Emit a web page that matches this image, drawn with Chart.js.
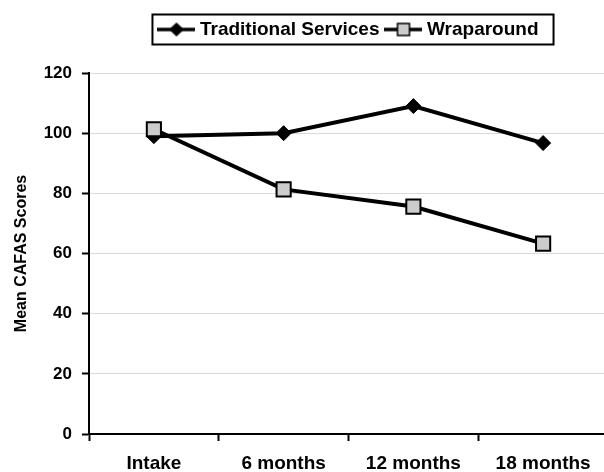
<!DOCTYPE html>
<html>
<head>
<meta charset="utf-8">
<script src="https://cdn.jsdelivr.net/npm/chart.js@4"></script>
<style>
  html, body { margin: 0; padding: 0; background: #fff; overflow: hidden; }
  #wrap { width: 620px; height: 472px; }
</style>
</head>
<body>
<div id="wrap"><canvas id="cafasChart" width="620" height="472"></canvas></div>
<script>
  var categories = ["Intake", "6 months", "12 months", "18 months"];
  var traditional = [99, 100, 109, 96.7];
  var wraparound = [101.3, 81.3, 75.6, 63.3];
  var yTicks = [0, 20, 40, 60, 80, 100, 120];

  var FONT = "'Liberation Sans', Arial, sans-serif";

  // petite image ligne + marqueur pour la légende
  function legendIcon(style, fill) {
    var c = document.createElement("canvas");
    c.width = 38; c.height = 20;
    var g = c.getContext("2d");
    g.strokeStyle = "#000";
    g.lineWidth = 3.5;
    g.beginPath(); g.moveTo(0, 10); g.lineTo(38, 10); g.stroke();
    g.fillStyle = fill;
    g.lineWidth = 1.5;
    if (style === "diamond") {
      g.beginPath();
      g.moveTo(19, 3); g.lineTo(26.5, 10); g.lineTo(19, 17); g.lineTo(11.5, 10);
      g.closePath(); g.fill();
    } else {
      g.fillRect(13, 4, 12, 12);
      g.strokeRect(13, 4, 12, 12);
    }
    return c;
  }

  var icons = [legendIcon("diamond", "#000"), legendIcon("square", "#cccccc")];

  // cadre autour de la légende + espace sous la légende
  var legendBox = {
    id: "legendBox",
    beforeInit: function (chart) {
      var lg = chart.legend;
      var origFit = lg.fit;
      lg.fit = function () {
        origFit.call(this);
        this.height += 24;
      };
    },
    afterLayout: function (chart) {
      chart.legend.left += 44;
      chart.legend.right += 44;
    },
    afterDraw: function (chart) {
      var boxes = chart.legend.legendHitBoxes;
      if (!boxes || !boxes.length) return;
      var first = boxes[0], last = boxes[boxes.length - 1];
      var cy = first.top + first.height / 2;
      var ctx = chart.ctx;
      ctx.save();
      ctx.strokeStyle = "#000";
      ctx.lineWidth = 2;
      var x0 = first.left - 10;
      var x1 = last.left + last.width + 15;
      ctx.strokeRect(x0, cy - 15, x1 - x0, 30);
      ctx.restore();
    }
  };

  var ctx = document.getElementById("cafasChart").getContext("2d");

  var myChart = new Chart(ctx, {
    type: "line",
    data: {
      labels: categories,
      datasets: [{
        label: "Traditional Services",
        data: traditional,
        borderColor: "#000",
        backgroundColor: "#000",
        borderWidth: 4,
        pointStyle: "rectRot",
        pointRadius: 7.5,
        pointBorderWidth: 1,
        pointBackgroundColor: "#000",
        pointBorderColor: "#000",
        order: 2
      }, {
        label: "Wraparound",
        data: wraparound,
        borderColor: "#000",
        backgroundColor: "#cccccc",
        borderWidth: 4,
        pointStyle: "rect",
        pointRadius: 10,
        pointBorderWidth: 2,
        pointBackgroundColor: "#cccccc",
        pointBorderColor: "#000",
        order: 1
      }]
    },
    options: {
      responsive: false,
      animation: false,
      layout: { padding: { top: 10, right: 7, left: 0, bottom: 0 } },
      plugins: {
        tooltip: { enabled: false },
        legend: {
          position: "top",
          labels: {
            usePointStyle: true,
            pointStyleWidth: 28,
            padding: 10,
            color: "#000",
            font: { family: FONT, size: 19, weight: "bold" },
            generateLabels: function (chart) {
              return chart.data.datasets.map(function (ds, i) {
                return {
                  text: ds.label,
                  pointStyle: icons[i],
                  fillStyle: ds.backgroundColor,
                  strokeStyle: "#000",
                  lineWidth: 0,
                  hidden: false,
                  datasetIndex: i
                };
              });
            }
          }
        }
      },
      scales: {
        x: {
          type: "category",
          offset: true,
          grid: { display: true, drawOnChartArea: false, offset: true, tickLength: 7, tickColor: "#000", tickWidth: 2 },
          border: { color: "#000", width: 2 },
          ticks: {
            color: "#000",
            padding: 11,
            maxRotation: 0,
            autoSkip: false,
            font: { family: FONT, size: 19, weight: "bold" }
          },
          afterFit: function (scale) { scale.height = 38; }
        },
        y: {
          min: 0,
          max: 120,
          afterBuildTicks: function (scale) {
            scale.ticks = yTicks.map(function (v) { return { value: v }; });
          },
          grid: { color: "#d9d9d9", lineWidth: 1, tickColor: "#000", tickLength: 7, tickWidth: 2 },
          border: { color: "#000", width: 2 },
          ticks: {
            color: "#000",
            padding: 10,
            font: { family: FONT, size: 17, weight: "bold" }
          },
          title: {
            display: true,
            text: "Mean CAFAS Scores",
            color: "#000",
            padding: { top: 12, bottom: 0 },
            font: { family: FONT, size: 16, weight: "bold" }
          },
          afterFit: function (scale) { scale.width = 89; }
        }
      }
    },
    plugins: [legendBox]
  });
</script>
</body>
</html>
